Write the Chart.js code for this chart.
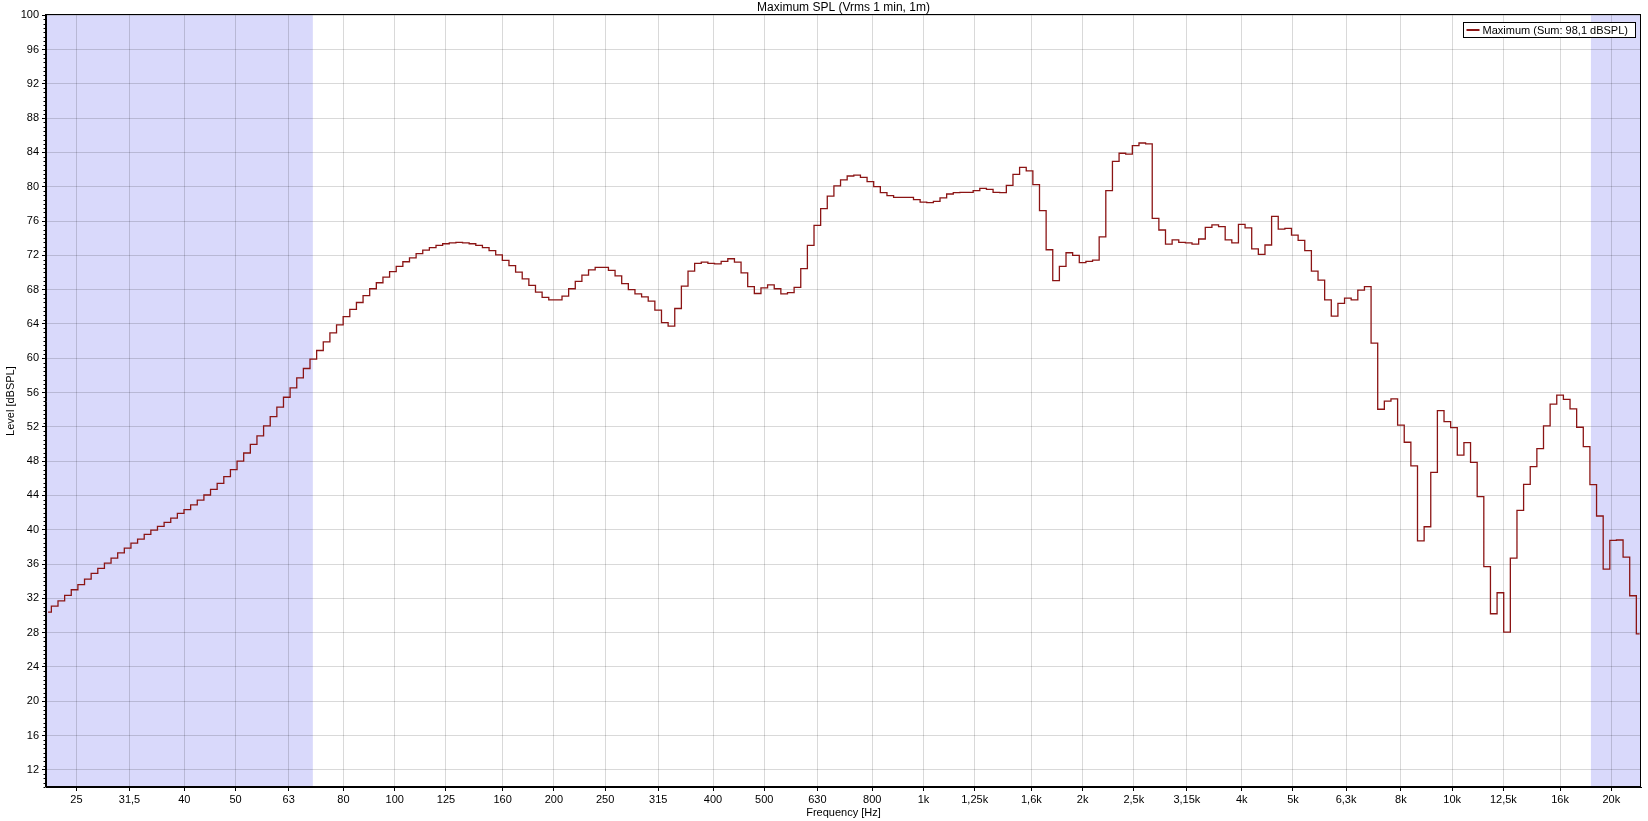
<!DOCTYPE html>
<html>
<head>
<meta charset="utf-8">
<script src="https://cdn.jsdelivr.net/npm/chart.js@4.4.1/dist/chart.umd.min.js"></script>
<style>
html,body{margin:0;padding:0;background:#fff;}
#wrap{width:1648px;height:821px;}
</style>
</head>
<body>
<div id="wrap"><canvas id="c" width="1648" height="821"></canvas></div>
<script>
// 1/24-octave bands, index relative to 1 kHz; first band shown is index -132
const FIRST_BAND = -132;
const BANDS_PER_OCTAVE = 24;

// Level [dBSPL] per band
const levels = [
  30.4, 31.1, 31.7, 32.35, 33.0, 33.6, 34.25, 34.9,
  35.5, 36.1, 36.7, 37.3, 37.85, 38.45, 38.9, 39.45,
  39.95, 40.4, 40.85, 41.35, 41.9, 42.35, 42.9, 43.45,
  44.05, 44.7, 45.4, 46.2, 47.0, 48.0, 48.95, 49.95,
  50.95, 52.1, 53.2, 54.3, 55.45, 56.55, 57.7, 58.8,
  59.9, 60.9, 61.9, 62.95, 63.9, 64.85, 65.7, 66.5,
  67.3, 68.1, 68.8, 69.45, 70.1, 70.7, 71.25, 71.7,
  72.2, 72.6, 72.9, 73.15, 73.35, 73.45, 73.5, 73.45,
  73.35, 73.15, 72.9, 72.55, 72.05, 71.4, 70.8, 70.05,
  69.25, 68.5, 67.7, 67.1, 66.8, 66.8, 67.25, 68.1,
  68.95, 69.7, 70.3, 70.6, 70.6, 70.25, 69.6, 68.7,
  68.0, 67.5, 67.15, 66.65, 65.6, 64.15, 63.75, 65.8,
  68.4, 70.15, 71.05, 71.2, 71.05, 71.0, 71.3, 71.6,
  71.2, 69.95, 68.35, 67.55, 68.2, 68.55, 68.1, 67.5,
  67.65, 68.25, 70.45, 73.15, 75.5, 77.45, 78.9, 80.1,
  80.8, 81.25, 81.35, 81.1, 80.6, 80.0, 79.3, 78.95,
  78.75, 78.75, 78.75, 78.5, 78.2, 78.15, 78.3, 78.7,
  79.15, 79.3, 79.35, 79.35, 79.55, 79.8, 79.7, 79.35,
  79.3, 80.15, 81.45, 82.25, 81.85, 80.25, 77.2, 72.65,
  69.05, 70.7, 72.3, 72.0, 71.15, 71.3, 71.45, 74.15,
  79.55, 82.95, 83.9, 83.8, 84.8, 85.1, 85.0, 76.3,
  74.95, 73.3, 73.8, 73.5, 73.45, 73.3, 73.9, 75.25,
  75.55, 75.35, 73.8, 73.45, 75.6, 75.2, 72.75, 72.1,
  73.2, 76.55, 75.05, 75.15, 74.35, 73.75, 72.55, 70.15,
  69.1, 66.8, 64.9, 66.4, 67.0, 66.8, 67.95, 68.35,
  61.75, 54.05, 55.0, 55.25, 52.2, 50.2, 47.45, 38.7,
  40.35, 46.7, 53.9, 52.6, 51.9, 48.7, 50.15, 47.85,
  43.85, 35.7, 30.2, 32.65, 28.05, 36.7, 42.25, 45.3,
  47.35, 49.45, 52.1, 54.65, 55.7, 55.2, 54.1, 51.95,
  49.7, 45.25, 41.6, 35.4, 38.75, 38.8, 36.8, 32.3,
  27.85
];

// band centre frequencies (Hz) of the 1/24-octave bands
const bandCenters = levels.map((_, i) => 1000 * Math.pow(2, (FIRST_BAND + i) / BANDS_PER_OCTAVE));

// axis ticks
const xTickFreqs = [25, 31.5, 40, 50, 63, 80, 100, 125, 160, 200, 250, 315, 400, 500, 630, 800,
  1000, 1250, 1600, 2000, 2500, 3150, 4000, 5000, 6300, 8000, 10000, 12500, 16000, 20000];
const xTickLabels = ['25', '31,5', '40', '50', '63', '80', '100', '125', '160', '200', '250', '315', '400', '500', '630', '800',
  '1k', '1,25k', '1,6k', '2k', '2,5k', '3,15k', '4k', '5k', '6,3k', '8k', '10k', '12,5k', '16k', '20k'];
const yTicks = [12, 16, 20, 24, 28, 32, 36, 40, 44, 48, 52, 56, 60, 64, 68, 72, 76, 80, 84, 88, 92, 96, 100];

const X_MIN = 21.9, X_MAX = 22760;
const Y_MIN = 10, Y_MAX = 100;

// shaded (out-of-range) frequency bands, Hz
const shadeLow = [X_MIN, 70];
const shadeHigh = [18300, X_MAX];

const seriesLabel = 'Maximum (Sum: 98,1 dBSPL)';
const LINE_COLOR = '#8b1414';

Chart.defaults.font.family = '"Liberation Sans", Arial, sans-serif';
Chart.defaults.font.size = 11;
Chart.defaults.color = '#000';

const shadePlugin = {
  id: 'shade',
  beforeDraw(chart) {
    const {ctx, chartArea: a, scales: {x}} = chart;
    ctx.save();
    ctx.fillStyle = 'rgb(217,217,251)';
    [shadeLow, shadeHigh].forEach(([f1, f2]) => {
      const x1 = Math.max(a.left, x.getPixelForValue(f1));
      const x2 = Math.min(a.right, x.getPixelForValue(f2));
      ctx.fillRect(x1, a.top, x2 - x1, a.bottom - a.top);
    });
    ctx.restore();
  }
};

const framePlugin = {
  id: 'frame',
  afterDraw(chart) {
    const {ctx, chartArea: a, scales: {y}} = chart;
    ctx.save();
    ctx.strokeStyle = '#000';
    ctx.lineWidth = 1;
    const L = Math.round(a.left) - 0.5, R = Math.round(a.right) - 0.5;
    const T = Math.round(a.top) - 0.5, B = Math.round(a.bottom) - 0.5;
    ctx.strokeRect(L, T, R - L, B - T);
    // minor ticks on the level axis
    ctx.beginPath();
    for (let v = Y_MIN; v <= Y_MAX; v += 0.5) {
      if (v % 4 === 0) continue;
      const py = Math.round(y.getPixelForValue(v)) + 0.5;
      ctx.moveTo(L - 2, py);
      ctx.lineTo(L, py);
    }
    ctx.stroke();

    // legend box (top right inside plot)
    ctx.font = '11px "Liberation Sans", Arial, sans-serif';
    const tw = ctx.measureText(seriesLabel).width;
    const bw = Math.round(tw + 27), bh = 15;
    const bx = Math.round(a.right - 6 - bw) + 0.5, by = Math.round(a.top + 7) + 0.5;
    ctx.fillStyle = '#fff';
    ctx.fillRect(bx, by, bw, bh);
    ctx.strokeStyle = '#000';
    ctx.strokeRect(bx, by, bw, bh);
    ctx.strokeStyle = LINE_COLOR;
    ctx.lineWidth = 2;
    ctx.beginPath();
    ctx.moveTo(bx + 3, by + 7.5);
    ctx.lineTo(bx + 16, by + 7.5);
    ctx.stroke();
    ctx.fillStyle = '#000';
    ctx.textBaseline = 'middle';
    ctx.textAlign = 'left';
    ctx.fillText(seriesLabel, bx + 19, by + bh / 2 + 0.5);
    ctx.restore();
  }
};

new Chart(document.getElementById('c'), {
  type: 'line',
  data: {
    datasets: [{
      label: seriesLabel,
      data: bandCenters.map((f, i) => ({x: f, y: levels[i]})),
      borderColor: LINE_COLOR,
      borderWidth: 1.3,
      pointRadius: 0,
      pointHoverRadius: 0,
      stepped: 'middle',
      fill: false
    }]
  },
  options: {
    responsive: false,
    animation: false,
    devicePixelRatio: 1,
    layout: {padding: {left: 0, right: 7, top: 0, bottom: 0}},
    plugins: {
      legend: {display: false},
      tooltip: {enabled: false},
      title: {
        display: true,
        text: 'Maximum SPL (Vrms 1 min, 1m)',
        fullSize: false,
        font: {size: 12, weight: 'normal', lineHeight: 1.1},
        padding: {top: 1, bottom: 1},
        color: '#000'
      }
    },
    scales: {
      x: {
        type: 'logarithmic',
        min: X_MIN,
        max: X_MAX,
        afterBuildTicks: s => { s.ticks = xTickFreqs.map(v => ({value: v})); },
        afterFit: s => { s.height = 34; },
        ticks: {
          autoSkip: false, maxRotation: 0, minRotation: 0, padding: 2,
          callback: (v, i) => xTickLabels[i]
        },
        grid: {color: 'rgba(0,0,0,0.15)', tickColor: '#000', tickLength: 4},
        border: {display: true, color: '#000'},
        title: {display: true, text: 'Frequency [Hz]', padding: {top: 0, bottom: 1}}
      },
      y: {
        type: 'linear',
        min: Y_MIN,
        max: Y_MAX,
        afterBuildTicks: s => { s.ticks = yTicks.map(v => ({value: v})); },
        afterFit: s => { s.width = 46; },
        ticks: {padding: 3, callback: v => String(v)},
        grid: {color: 'rgba(0,0,0,0.15)', tickColor: '#000', tickLength: 4},
        border: {display: true, color: '#000'},
        title: {display: true, text: 'Level [dBSPL]', padding: {top: 4, bottom: 0}}
      }
    }
  },
  plugins: [shadePlugin, framePlugin]
});
</script>
</body>
</html>
